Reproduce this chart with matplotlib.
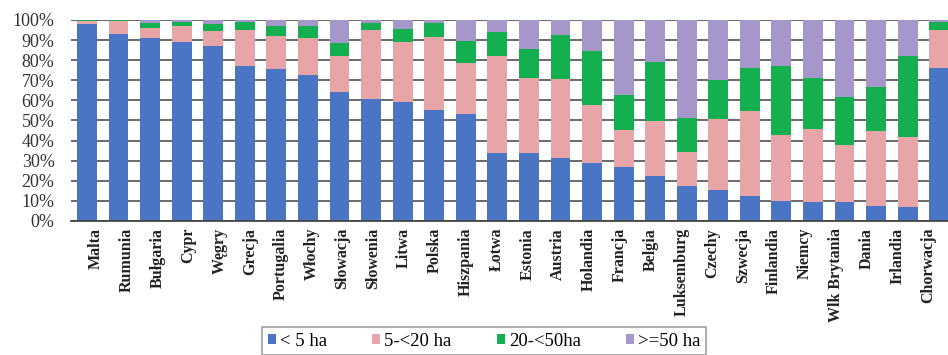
import matplotlib
matplotlib.use("Agg")
import matplotlib.pyplot as plt
import numpy as np

countries = ["Malta", "Rumunia", "Bułgaria", "Cypr", "Węgry", "Grecja", "Portugalia",
             "Włochy", "Słowacja", "Słowenia", "Litwa", "Polska", "Hiszpania", "Łotwa",
             "Estonia", "Austria", "Holandia", "Francja", "Belgia", "Luksemburg", "Czechy",
             "Szwecja", "Finlandia", "Niemcy", "Wlk Brytania", "Dania", "Irlandia", "Chorwacja"]

lt5 = [98, 93, 91, 89, 87, 77, 75.5, 72.5, 64, 60.5, 59, 55, 53, 34,
       34, 31.5, 29, 27, 22.5, 17.5, 15.5, 12.5, 10, 9.5, 9.5, 7.5, 7, 76]
r5_20 = [1.5, 6.5, 5, 8, 7.5, 18, 16.5, 18.5, 18, 34.5, 30, 36.5, 25.5, 48,
         37, 39, 28.5, 18.5, 27.5, 17, 35, 42, 33, 36.5, 28.5, 37.5, 35, 19]
r20_50 = [0.3, 0.3, 2.5, 2, 3.5, 4, 5, 6, 6.5, 3.5, 6.5, 7, 11, 12,
          14.5, 22, 27, 17, 29, 16.5, 19.5, 21.5, 34, 25, 23.5, 21.5, 40, 4]
ge50 = [0.2, 0.2, 1.5, 1, 2, 1, 3, 3, 11.5, 1.5, 4.5, 1.5, 10.5, 6,
        14.5, 7.5, 15.5, 37.5, 21, 49, 30, 24, 23, 29, 38.5, 33.5, 18, 1]

series = [("< 5 ha", lt5, "#4a74c4"),
          ("5-<20 ha", r5_20, "#e8a5a8"),
          ("20-<50ha", r20_50, "#14b050"),
          (">=50 ha", ge50, "#a697cb")]

yticks = [0, 10, 20, 30, 40, 50, 60, 70, 80, 90, 100]
ytick_labels = [f"{v}%" for v in yticks]

W, H = 948, 355
fig = plt.figure(figsize=(W / 100, H / 100), dpi=100)
fig.patch.set_facecolor("white")

left_px, right_px = 71.2, 955.0
top_px, bot_px = 20.0, 221.0
ax = fig.add_axes([left_px / W, 1 - bot_px / H, (right_px - left_px) / W, (bot_px - top_px) / H])

x = np.arange(len(countries))
bottom = np.zeros(len(countries))
handles = []
for name, vals, col in series:
    v = np.array(vals, dtype=float)
    b = ax.bar(x, v, 0.63, bottom=bottom, color=col, label=name, zorder=2, linewidth=0)
    bottom += v
    handles.append(b)

ax.set_xlim(-0.5, len(countries) - 0.5)
ax.set_ylim(0, 100)
ax.set_yticks(yticks)
ax.set_yticklabels(ytick_labels, family="Liberation Serif", fontsize=13, color="#333333")
ax.tick_params(axis="y", length=0, pad=12)

# category labels (slightly differently spaced in the reference)
n = len(countries)
lab_pos = 0.285 + x * (26.365 / (n - 1))
ax.set_xticks(lab_pos)
ax.set_xticklabels(countries, rotation=90, family="Liberation Serif", fontweight="bold",
                   fontsize=11.5, color="#222222")
ax.tick_params(axis="x", length=0, pad=5)

ax.grid(axis="y", color="#505050", linewidth=1.2, zorder=0)
ax.set_axisbelow(True)
for s in ["left", "right", "top"]:
    ax.spines[s].set_visible(False)
ax.spines["bottom"].set_color("#444444")
ax.spines["bottom"].set_linewidth(1.3)

leg = fig.legend(handles=handles, labels=[s[0] for s in series], ncol=4,
                 loc="center", bbox_to_anchor=(484 / W, 1 - 341 / H),
                 prop={"family": "Liberation Serif", "size": 13.5},
                 handlelength=0.45, handleheight=0.45, handletextpad=0.2,
                 columnspacing=2.4, frameon=True, fancybox=False,
                 borderpad=0.3, borderaxespad=0)
leg.get_frame().set_edgecolor("#888888")
leg.get_frame().set_linewidth(1.2)

fig.savefig("out.png", dpi=100, facecolor="white")
